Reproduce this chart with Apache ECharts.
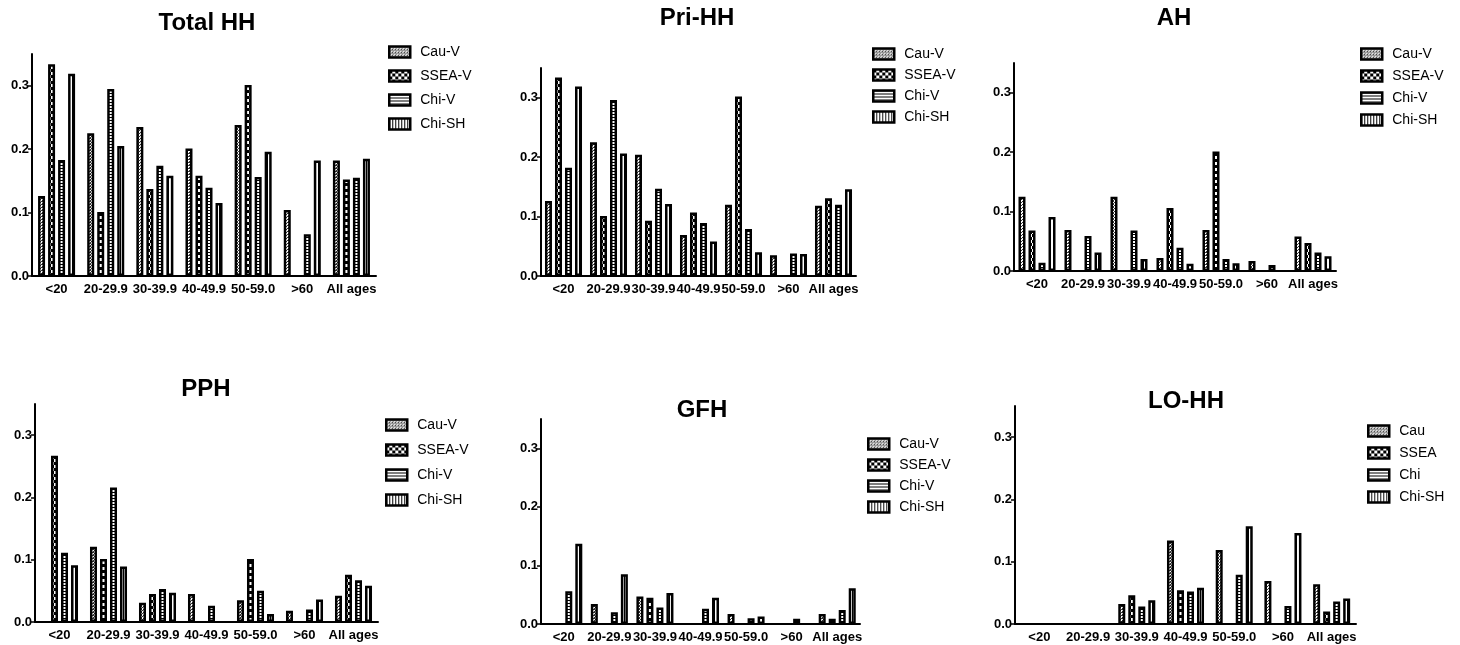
<!DOCTYPE html>
<html>
<head>
    <meta charset="utf-8">
    <title>HH by age group</title>
    <script src="https://cdn.jsdelivr.net/npm/echarts@6/dist/echarts.min.js"></script>
</head>
<body style="margin:0;background:#fff">
    <div id="main" style="width:1460px;height:645px;"></div>
    <script type="text/javascript">
        // categories and ticks
        var ageGroups = ['<20', '20-29.9', '30-39.9', '40-49.9', '50-59.0', '>60', 'All ages'];
        var seriesNames = ['Cau-V', 'SSEA-V', 'Chi-V', 'Chi-SH'];
        var loNames = ['Cau', 'SSEA', 'Chi', 'Chi-SH'];
        var yTicks = [0, 0.1, 0.2, 0.3];

        // Total HH
        var totalCau = [0.126, 0.225, 0.235, 0.201, 0.238, 0.104, 0.182];
        var totalSsea = [0.334, 0.101, 0.137, 0.158, 0.301, null, 0.152];
        var totalChiV = [0.183, 0.295, 0.174, 0.139, 0.156, 0.066, 0.155];
        var totalChiSH = [0.319, 0.205, 0.158, 0.115, 0.196, 0.182, 0.185];
        // Pri-HH
        var priCau = [0.126, 0.225, 0.204, 0.069, 0.120, 0.035, 0.118];
        var priSsea = [0.334, 0.101, 0.093, 0.107, 0.302, null, 0.131];
        var priChiV = [0.182, 0.296, 0.147, 0.089, 0.079, 0.038, 0.120];
        var priChiSH = [0.319, 0.206, 0.121, 0.058, 0.040, 0.037, 0.146];
        // AH
        var ahCau = [0.125, 0.069, 0.125, 0.022, 0.069, 0.017, 0.058];
        var ahSsea = [0.068, null, null, 0.106, 0.201, null, 0.047];
        var ahChiV = [0.014, 0.059, 0.068, 0.039, 0.020, 0.010, 0.031];
        var ahChiSH = [0.091, 0.031, 0.020, 0.012, 0.013, null, 0.025];
        // PPH
        var pphCau = [null, 0.121, 0.031, 0.045, 0.035, 0.018, 0.042];
        var pphSsea = [0.267, 0.101, 0.045, null, 0.101, null, 0.076];
        var pphChiV = [0.111, 0.216, 0.053, 0.026, 0.050, 0.020, 0.067];
        var pphChiSH = [0.091, 0.089, 0.047, null, 0.013, 0.036, 0.058];
        // GFH
        var gfhCau = [null, 0.034, 0.047, null, 0.017, null, 0.017];
        var gfhSsea = [null, null, 0.045, null, null, null, 0.009];
        var gfhChiV = [0.056, 0.020, 0.028, 0.026, 0.010, 0.009, 0.024];
        var gfhChiSH = [0.137, 0.085, 0.053, 0.045, 0.013, null, 0.061];
        // LO-HH
        var loCau = [null, null, 0.032, 0.134, 0.119, 0.069, 0.064];
        var loSsea = [null, null, 0.046, 0.054, null, null, 0.020];
        var loChi = [null, null, 0.028, 0.052, 0.079, 0.029, 0.036];
        var loChiSH = [null, null, 0.038, 0.058, 0.157, 0.146, 0.041];

        var font = 'Arial, "Liberation Sans", sans-serif';

        // black & white fill patterns, one per group
        function tile(w, h, draw) {
            var c = document.createElement('canvas');
            c.width = w; c.height = h;
            var ctx = c.getContext('2d');
            ctx.fillStyle = '#fff';
            ctx.fillRect(0, 0, w, h);
            ctx.fillStyle = '#000';
            draw(ctx);
            return { image: c, repeat: 'repeat' };
        }
        var fills = [
            // fine dots
            tile(3, 3, function (ctx) { ctx.fillStyle = '#333'; ctx.fillRect(0, 0, 1, 1); ctx.fillRect(2, 0, 1, 1); ctx.fillRect(1, 1, 1, 1); ctx.fillRect(0, 2, 1, 1); }),
            // coarse checker
            tile(6, 6, function (ctx) { ctx.fillRect(0, 0, 3, 3); ctx.fillRect(3, 3, 3, 3); }),
            // horizontal lines
            tile(4, 3, function (ctx) { ctx.fillRect(0, 0, 4, 1); }),
            // vertical lines
            tile(3, 4, function (ctx) { ctx.fillRect(0, 0, 1, 4); })
        ];

        var panels = [
            { title: 'Total HH', tx: 207, ty: 11, grid: [32, 54, 344, 222], lg: [388, 45, 10], names: seriesNames, data: [totalCau, totalSsea, totalChiV, totalChiSH] },
            { title: 'Pri-HH', tx: 697, ty: 6, grid: [541, 68, 315, 208], lg: [872, 47, 7], names: seriesNames, data: [priCau, priSsea, priChiV, priChiSH] },
            { title: 'AH', tx: 1174, ty: 6, grid: [1014, 63, 322, 208], lg: [1360, 47, 8], names: seriesNames, data: [ahCau, ahSsea, ahChiV, ahChiSH] },
            { title: 'PPH', tx: 206, ty: 377, grid: [35, 404, 343, 218], lg: [385, 418, 11], names: seriesNames, data: [pphCau, pphSsea, pphChiV, pphChiSH] },
            { title: 'GFH', tx: 702, ty: 398, grid: [541, 419, 319, 205], lg: [867, 437, 7], names: seriesNames, data: [gfhCau, gfhSsea, gfhChiV, gfhChiSH] },
            { title: 'LO-HH', tx: 1186, ty: 389, grid: [1015, 406, 341, 218], lg: [1367, 424, 8], names: loNames, data: [loCau, loSsea, loChi, loChiSH] }
        ];

        var option = {
            animation: false,
            backgroundColor: '#fff',
            title: [], grid: [], xAxis: [], yAxis: [], legend: [], series: []
        };

        panels.forEach(function (p, i) {
            option.title.push({
                text: p.title, left: p.tx, top: p.ty, textAlign: 'center', padding: 0,
                textStyle: { fontFamily: font, fontSize: 24, fontWeight: 'bold', color: '#000' }
            });
            option.grid.push({ left: p.grid[0], top: p.grid[1], width: p.grid[2], height: p.grid[3] });
            option.xAxis.push({
                type: 'category', gridIndex: i, data: ageGroups,
                axisLine: { lineStyle: { color: '#000', width: 2 } },
                axisTick: { alignWithLabel: true, length: 4, lineStyle: { color: '#000', width: 1.5 } },
                axisLabel: { interval: 0, margin: 7, color: '#000', fontFamily: font, fontSize: 13, fontWeight: 'bold' }
            });
            option.yAxis.push({
                type: 'value', gridIndex: i, min: 0, max: 0.35,
                splitLine: { show: false },
                axisLine: { show: true, lineStyle: { color: '#000', width: 2 } },
                axisTick: { show: true, length: 4, customValues: yTicks, lineStyle: { color: '#000', width: 1.5 } },
                axisLabel: {
                    customValues: yTicks, margin: 3, color: '#000', fontFamily: font, fontSize: 13, fontWeight: 'bold',
                    formatter: function (v) { return v.toFixed(1); }
                }
            });
            option.legend.push({
                data: p.names, orient: 'vertical', left: p.lg[0], top: p.lg[1], itemGap: p.lg[2],
                itemWidth: 21, itemHeight: 11, icon: 'rect', selectedMode: false, padding: 0,
                itemStyle: { borderColor: '#000', borderWidth: 2.5 },
                textStyle: { fontFamily: font, fontSize: 14, color: '#000', lineHeight: 14, padding: [0, 0, 0, 5] }
            });
            p.data.forEach(function (vals, k) {
                option.series.push({
                    name: p.names[k], type: 'bar', xAxisIndex: i, yAxisIndex: i,
                    data: vals, barWidth: 7, barGap: '43%',
                    itemStyle: { color: fills[k], borderColor: '#000', borderWidth: 2.5 },
                    emphasis: { disabled: true }
                });
            });
        });

        var myChart = echarts.init(document.getElementById('main'));
        myChart.setOption(option);
    </script>
</body>
</html>
